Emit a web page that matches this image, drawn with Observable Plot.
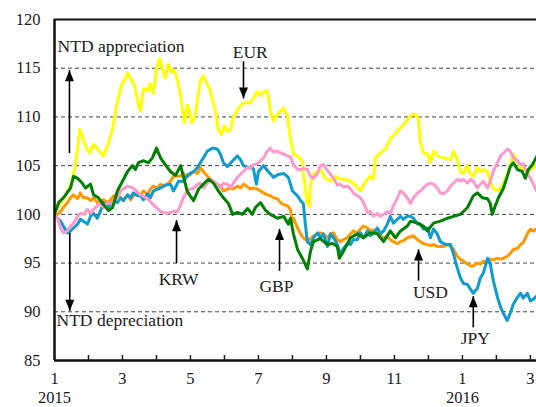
<!DOCTYPE html>
<html>
<head>
<meta charset="utf-8">
<script src="https://cdn.jsdelivr.net/npm/d3@7"></script>
<script src="https://cdn.jsdelivr.net/npm/@observablehq/plot@0.6"></script>
<style>
  html, body { margin: 0; padding: 0; background: #fff; }
  #chart { width: 536px; height: 407px; }
</style>
</head>
<body>
<div id="chart"></div>
<script>
// x = months since start of January 2015 (0 = Jan 2015, 12 = Jan 2016)
const EUR = [[0,100],[0.09,100.8],[0.26,101.5],[0.47,103],[0.62,105],[0.74,108.7],[0.82,108],[0.91,107],[1.03,106.3],[1.15,107.2],[1.29,106.6],[1.44,106],[1.59,107.3],[1.71,108.8],[1.85,111.6],[1.97,113.2],[2.15,114.5],[2.24,113.9],[2.35,113.3],[2.47,111.2],[2.53,110.6],[2.62,112.9],[2.74,112.7],[2.82,113.4],[2.91,112.4],[3.0,115],[3.09,116],[3.21,114.5],[3.26,114],[3.35,115.4],[3.44,114.6],[3.53,114.8],[3.62,113.7],[3.71,112.2],[3.76,110.9],[3.82,109.4],[3.91,111.2],[3.97,110.6],[4.03,109.4],[4.12,109.9],[4.21,111.7],[4.29,113.7],[4.38,114.2],[4.47,113.5],[4.56,112.9],[4.65,111.7],[4.74,110.5],[4.82,108.7],[4.91,108.2],[5.0,109.1],[5.09,108.5],[5.18,108.7],[5.26,110],[5.38,110.7],[5.5,111.3],[5.62,111.5],[5.74,111.4],[5.85,111.9],[5.97,112.6],[6.06,112.2],[6.15,112.6],[6.26,112.7],[6.35,110.6],[6.44,109.6],[6.59,110.4],[6.74,110.9],[6.85,110.1],[6.94,107.8],[7.03,106.2],[7.15,106],[7.29,105.5],[7.32,104.1],[7.44,101.2],[7.5,100.8],[7.53,103],[7.62,104.1],[7.82,104.6],[7.97,103.7],[8.12,103.4],[8.26,103.9],[8.41,103.6],[8.56,103.6],[8.71,103.4],[8.85,103],[9.0,102.4],[9.15,103.4],[9.29,103.9],[9.38,103.6],[9.44,105.8],[9.59,106.3],[9.74,106.7],[9.88,107.8],[10.03,108.3],[10.18,108.9],[10.32,109.4],[10.47,110.1],[10.56,110.3],[10.68,110.1],[10.71,109.6],[10.76,107.5],[10.85,106.3],[10.97,106.2],[11.06,105.3],[11.15,106.5],[11.26,106],[11.44,105.8],[11.65,105.6],[11.74,106.5],[11.85,105.6],[11.94,104.4],[12.03,104.2],[12.15,105],[12.24,104.1],[12.32,103.9],[12.44,104.8],[12.53,104.4],[12.62,104.6],[12.74,104.4],[12.82,103.4],[12.91,102.6],[13.03,102.4],[13.12,102.7],[13.21,103.2],[13.32,104.1],[13.41,105.1],[13.5,106.2],[13.71,104.8],[13.91,104.4],[14.09,104.8],[14.18,105.2]];

const USD = [[0,100],[0.09,100],[0.18,100.3],[0.26,100.7],[0.38,101.2],[0.47,101.7],[0.56,102],[0.68,101.6],[0.76,102.2],[0.85,101.7],[0.97,101.7],[1.06,101.4],[1.15,101.7],[1.26,101.2],[1.35,101.4],[1.44,101.5],[1.56,101.2],[1.65,101.5],[1.74,101.9],[1.85,102],[1.94,101.7],[2.03,101.5],[2.15,102],[2.24,101.5],[2.32,101.9],[2.44,102.2],[2.53,102],[2.62,102.4],[2.74,102],[2.82,102.6],[2.91,102.9],[3.03,102.7],[3.12,103.1],[3.21,102.9],[3.32,103.1],[3.41,103.4],[3.5,103.9],[3.62,103.9],[3.71,103.9],[3.79,104.2],[3.91,103.9],[4.0,104.1],[4.09,104.4],[4.21,104.2],[4.29,104.8],[4.38,104.4],[4.5,103.9],[4.59,103.6],[4.68,103.2],[4.79,103.1],[4.88,102.9],[4.97,102.4],[5.09,102.6],[5.18,102.7],[5.26,102.6],[5.38,102.9],[5.47,102.7],[5.56,103.1],[5.68,102.8],[5.76,102.6],[5.85,102.7],[5.97,102.6],[6.06,102.4],[6.15,102.2],[6.26,102],[6.35,101.9],[6.44,101.7],[6.56,101.6],[6.65,101.2],[6.74,101],[6.85,100.9],[6.94,100.5],[7.0,99.3],[7.03,99.6],[7.15,98.6],[7.24,98],[7.32,97.6],[7.44,97.3],[7.53,97.5],[7.62,97.8],[7.74,98],[7.82,98.1],[7.91,98],[8.03,97.6],[8.12,98],[8.21,98.1],[8.32,97.4],[8.41,97.2],[8.5,97.4],[8.62,97.6],[8.71,98],[8.79,98.3],[8.91,98.1],[9.0,98.5],[9.09,98.8],[9.21,98.6],[9.29,98.3],[9.38,98.4],[9.5,98.1],[9.59,97.8],[9.68,97.6],[9.79,97.7],[9.88,97.4],[9.97,97.2],[10.09,97],[10.18,97.2],[10.26,97.3],[10.38,97.6],[10.56,97.8],[10.68,97.4],[10.76,97.2],[10.85,97.0],[10.97,96.9],[11.06,96.8],[11.15,96.9],[11.26,96.7],[11.44,96.7],[11.56,96.9],[11.65,96.7],[11.74,96.4],[11.85,95.7],[11.94,95.4],[12.03,95.2],[12.15,94.9],[12.24,94.7],[12.32,94.7],[12.44,95],[12.53,94.9],[12.62,95.2],[12.74,95.1],[12.82,95.4],[12.91,95.3],[13.03,95.5],[13.12,95.4],[13.21,95.5],[13.32,95.7],[13.41,96],[13.5,96.4],[13.62,96.5],[13.71,96.9],[13.79,97.1],[13.91,98],[14.0,98.5],[14.09,98.3],[14.18,98.5]];

const JPY = [[0,100],[0.09,99.6],[0.18,99.3],[0.26,98.8],[0.38,98.1],[0.47,98.3],[0.56,98.6],[0.68,99],[0.76,99.5],[0.85,99.3],[0.97,99],[1.06,99.8],[1.15,100.1],[1.26,99.6],[1.35,100.3],[1.44,101.2],[1.56,100.7],[1.65,101],[1.74,101.4],[1.85,101.2],[1.94,101.7],[2.03,101.4],[2.15,102],[2.24,101.7],[2.32,102.2],[2.44,101.9],[2.53,101.9],[2.62,101.5],[2.74,102.1],[2.82,101.7],[2.91,102.4],[3.03,102.6],[3.12,102.7],[3.26,103],[3.41,103.1],[3.5,102.4],[3.65,103.4],[3.79,103.4],[3.94,104.1],[4.09,104.4],[4.21,104.8],[4.29,105.3],[4.38,105.8],[4.5,106.5],[4.65,106.8],[4.79,106.7],[4.88,106.2],[4.97,105.3],[5.09,104.9],[5.24,105.5],[5.38,106],[5.47,105.6],[5.56,105],[5.71,104.8],[5.85,104.7],[5.94,103.1],[6.0,104.4],[6.15,105],[6.29,104.4],[6.44,103.8],[6.59,104.1],[6.74,104.2],[6.88,103.8],[6.94,103.1],[7.0,102.4],[7.15,101.9],[7.24,101.4],[7.32,101.1],[7.38,99],[7.44,97.2],[7.53,96.9],[7.62,97.6],[7.74,98.1],[7.82,97.6],[7.91,98],[8.03,96.7],[8.12,98],[8.21,97.6],[8.32,96.9],[8.41,95.9],[8.5,96.5],[8.62,97],[8.71,96.9],[8.79,97.4],[8.91,97.4],[9.0,98.1],[9.09,97.6],[9.21,98.3],[9.29,97.8],[9.38,98.1],[9.5,98.6],[9.59,98],[9.68,98.3],[9.79,99],[9.88,99.8],[9.97,99.1],[10.09,99.5],[10.18,99.8],[10.26,99.5],[10.38,99.8],[10.47,99.8],[10.56,99.6],[10.68,99],[10.76,99],[10.85,98.5],[10.97,98.6],[11.06,97.6],[11.15,98.5],[11.26,98],[11.35,97.2],[11.44,97],[11.56,96.9],[11.65,96.9],[11.74,95.9],[11.85,94.5],[11.94,93.5],[12.03,92.9],[12.15,92.8],[12.24,92.3],[12.32,91.9],[12.44,92.4],[12.53,93.5],[12.62,94],[12.74,95.5],[12.82,94.9],[12.91,93.2],[13.03,91.5],[13.12,90.5],[13.21,89.8],[13.32,89.1],[13.41,89.9],[13.5,90.8],[13.62,91.5],[13.71,91.9],[13.79,91.4],[13.91,91.9],[14.0,91.1],[14.09,91.3],[14.18,91.6]];

const KRW = [[0,100],[0.09,99.6],[0.18,98.6],[0.26,98.1],[0.38,98.3],[0.47,98.8],[0.56,99.1],[0.68,99.8],[0.76,100.1],[0.85,100],[0.97,100.5],[1.06,100.1],[1.15,100.5],[1.26,100.9],[1.35,101.2],[1.44,100.7],[1.56,101.2],[1.65,101.1],[1.74,101.4],[1.85,101.6],[1.94,102.4],[2.15,102.9],[2.32,102.7],[2.53,102],[2.74,101.6],[2.91,101],[3.12,100.3],[3.32,100.1],[3.5,100.3],[3.62,100.3],[3.71,101],[3.79,101.7],[3.91,102.4],[4.0,102.6],[4.09,102.7],[4.21,103.1],[4.29,103.2],[4.38,102.7],[4.5,103.2],[4.59,103.6],[4.68,103.4],[4.79,103.1],[4.88,102.7],[4.97,103.2],[5.09,103.1],[5.18,102.7],[5.26,103.2],[5.38,103.8],[5.47,104.1],[5.56,104.4],[5.68,104.8],[5.76,104.7],[5.85,105.1],[5.97,105.2],[6.06,105.5],[6.15,105.8],[6.26,106.5],[6.35,106.8],[6.44,106.4],[6.56,106.5],[6.65,106.3],[6.74,106.2],[6.85,106],[6.94,105.9],[7.03,105.1],[7.15,104.6],[7.24,104.6],[7.32,104.7],[7.44,104.6],[7.53,103.9],[7.62,103.7],[7.74,104.2],[7.82,105],[7.91,105.1],[8.03,104.5],[8.12,104.1],[8.21,103.7],[8.32,103],[8.41,103.1],[8.5,102.8],[8.62,102.9],[8.71,102.6],[8.79,102.2],[8.91,101.9],[9.0,101.7],[9.09,101.2],[9.21,100.2],[9.29,100.3],[9.38,99.8],[9.5,100.1],[9.59,99.8],[9.68,100],[9.79,100.3],[9.88,100.1],[9.97,100.9],[10.09,101.7],[10.18,102.4],[10.26,102.2],[10.38,101.7],[10.47,101.1],[10.56,101.7],[10.68,102.2],[10.76,102.4],[10.85,102.7],[10.97,103.1],[11.06,103.2],[11.15,103.1],[11.26,102.7],[11.35,102.2],[11.44,102.1],[11.56,102.4],[11.65,102.9],[11.74,103.2],[11.85,103.6],[11.94,103.4],[12.03,103.6],[12.15,103.2],[12.24,103.6],[12.32,103.4],[12.44,102.7],[12.53,103.1],[12.62,103.4],[12.74,102.7],[12.82,103.4],[12.91,104.4],[13.03,105.3],[13.12,106],[13.21,106.3],[13.32,106.7],[13.41,106.5],[13.5,105.8],[13.62,105.5],[13.71,105.1],[13.79,105.2],[13.91,104.2],[14.0,103.7],[14.09,103.1],[14.18,102.4]];

const GBP = [[0,100],[0.12,101.2],[0.26,101.7],[0.47,102.7],[0.56,103.9],[0.68,103.7],[0.82,103.2],[0.91,102.7],[1.06,103.1],[1.15,102],[1.29,101.7],[1.44,101],[1.59,100.4],[1.71,100.7],[1.85,102.4],[2.0,103.4],[2.15,104.4],[2.29,105],[2.38,104.6],[2.47,105.3],[2.62,105.5],[2.76,105.3],[2.88,105.8],[3.0,106.8],[3.12,105.8],[3.26,105.1],[3.41,104.4],[3.56,104],[3.71,105],[3.91,102.3],[4.09,101.4],[4.24,102.6],[4.38,103.1],[4.53,103.6],[4.68,103.2],[4.82,102.4],[4.97,101.7],[5.12,101.1],[5.24,100],[5.38,100.2],[5.53,100],[5.68,100.6],[5.82,100],[5.91,100.7],[6.06,101.2],[6.21,100.4],[6.35,100],[6.56,99.6],[6.74,99.8],[6.88,99.0],[6.94,99.6],[7.03,98],[7.15,96.4],[7.29,95.5],[7.44,94.4],[7.53,96.2],[7.62,97.2],[7.82,97.5],[8.03,96.9],[8.18,97],[8.32,96.7],[8.38,95.5],[8.5,96.2],[8.71,97.6],[8.91,98],[9.09,97.6],[9.29,98.1],[9.5,98],[9.68,97.2],[9.88,98.3],[10.03,97.6],[10.18,98.3],[10.38,98.8],[10.47,99.3],[10.68,99.1],[10.85,98.8],[10.97,98.3],[11.15,99.1],[11.35,99.3],[11.56,99.6],[11.74,99.8],[11.94,100],[12.15,100.7],[12.32,101.9],[12.44,102.2],[12.59,101.7],[12.74,101.6],[12.82,101.1],[12.88,100],[12.97,100.9],[13.06,101.7],[13.21,102.7],[13.32,103.9],[13.41,104.9],[13.5,105.3],[13.62,104.6],[13.76,104.4],[13.85,103.7],[13.94,104.6],[14.06,105.1],[14.18,105.9]];

// drawing order (first = bottom) and colours
const seriesNames  = ["EUR", "USD", "JPY", "KRW", "GBP"];
const seriesData   = [EUR, USD, JPY, KRW, GBP];
const seriesColors = ["#FFFF00", "#FF9900", "#0F9BD0", "#FF99CC", "#008000"];

// axes
const xDomain = [0, 14.18];
const yDomain = [85, 120];
const yTicks = [85, 90, 95, 100, 105, 110, 115, 120];
const gridValues = [90, 95, 100, 105, 110, 115];
const monthTicks = [0, 1, 2, 3, 4, 5, 6, 7, 8, 9, 10, 11, 12, 13, 14];
const labelTicks = [0, 2, 4, 6, 8, 10, 12, 14];
const monthLabels = ["1", "3", "5", "7", "9", "11", "1", "3"];
const yearTicks = [0, 12];
const yearLabels = ["2015", "2016"];

// annotations (data units)
const noteText   = ["NTD appreciation", "EUR", "NTD depreciation", "KRW", "GBP", "USD", "JPY"];
const noteX      = [0.09, 5.76, 0.06, 3.65, 6.53, 11.06, 12.38];
const noteY      = [116.66, 116.04, 88.53, 92.71, 92.05, 91.44, 86.71];
const noteAnchor = ["start", "middle", "start", "middle", "middle", "middle", "middle"];

const arrowX    = [0.44, 5.56, 0.45, 3.59, 6.62, 10.71, 12.32];
const arrowTail = [106.3, 115.7, 98.1, 95.0, 94.2, 93.2, 88.4];
const arrowTip  = [114.8, 111.9, 90.1, 99.4, 98.5, 96.4, 91.6];

const serif = "'Liberation Serif', 'Times New Roman', Times, serif";

const notes = noteText.map((t, i) => ({t, x: noteX[i], y: noteY[i], a: noteAnchor[i]}));
const arrows = arrowX.map((x, i) => ({x, tail: arrowTail[i], tip: arrowTip[i], rot: arrowTip[i] > arrowTail[i] ? 0 : 180}));

// filled arrowhead, tip at the origin, pointing up
const head = {
  draw(ctx) {
    ctx.moveTo(0, 0);
    ctx.lineTo(4.5, 11);
    ctx.lineTo(-4.5, 11);
    ctx.closePath();
  }
};

const lineMarks = seriesData.map((s, i) =>
  Plot.line(s.map(([t, v]) => ({t, v})), {
    x: "t", y: "v", stroke: seriesColors[i], strokeWidth: 3,
    strokeLinejoin: "round", strokeLinecap: "round", clip: true
  })
);

const chart = Plot.plot({
  width: 536,
  height: 407,
  marginLeft: 54,
  marginRight: 0,
  marginTop: 19,
  marginBottom: 47,
  style: {fontFamily: serif, fontSize: "16.5px", color: "#1a1a1a", background: "#fff", overflow: "visible"},
  x: {domain: xDomain, axis: null},
  y: {domain: yDomain, axis: null},
  marks: [
    Plot.ruleY(gridValues, {stroke: "#444", strokeWidth: 1, strokeDasharray: "4,3"}),
    ...lineMarks,
    Plot.ruleY([yDomain[1]], {stroke: "#111", strokeWidth: 2}),
    Plot.ruleY([yDomain[0]], {stroke: "#111", strokeWidth: 2.5}),
    Plot.ruleX([xDomain[0]], {stroke: "#111", strokeWidth: 2.5}),
    Plot.axisY({ticks: yTicks, tickSize: 0, tickPadding: 14, fontSize: 16.5, label: null}),
    Plot.axisX({ticks: monthTicks, tickSize: -5, strokeWidth: 1.5, tickFormat: () => "", label: null}),
    Plot.axisX({ticks: labelTicks, tickSize: 0, tickPadding: 12, fontSize: 16.5, label: null,
      tickFormat: d => monthLabels[labelTicks.indexOf(d)]}),
    Plot.axisX({ticks: yearTicks, tickSize: 0, tickPadding: 31, fontSize: 16.5, label: null,
      tickFormat: d => yearLabels[yearTicks.indexOf(d)]}),
    Plot.link(arrows, {x1: "x", x2: "x", y1: "tail", y2: "tip", stroke: "#000", strokeWidth: 1.6}),
    Plot.dot(arrows, {x: "x", y: "tip", symbol: head, fill: "#000", stroke: null, rotate: "rot", r: 5}),
    Plot.text(notes, {filter: d => d.a === "start", x: "x", y: "y", text: "t", textAnchor: "start",
      lineAnchor: "bottom", fontSize: 17.5, fill: "#222"}),
    Plot.text(notes, {filter: d => d.a === "middle", x: "x", y: "y", text: "t", textAnchor: "middle",
      lineAnchor: "bottom", fontSize: 17.5, fill: "#222"})
  ]
});

document.getElementById("chart").appendChild(chart);
</script>
</body>
</html>
